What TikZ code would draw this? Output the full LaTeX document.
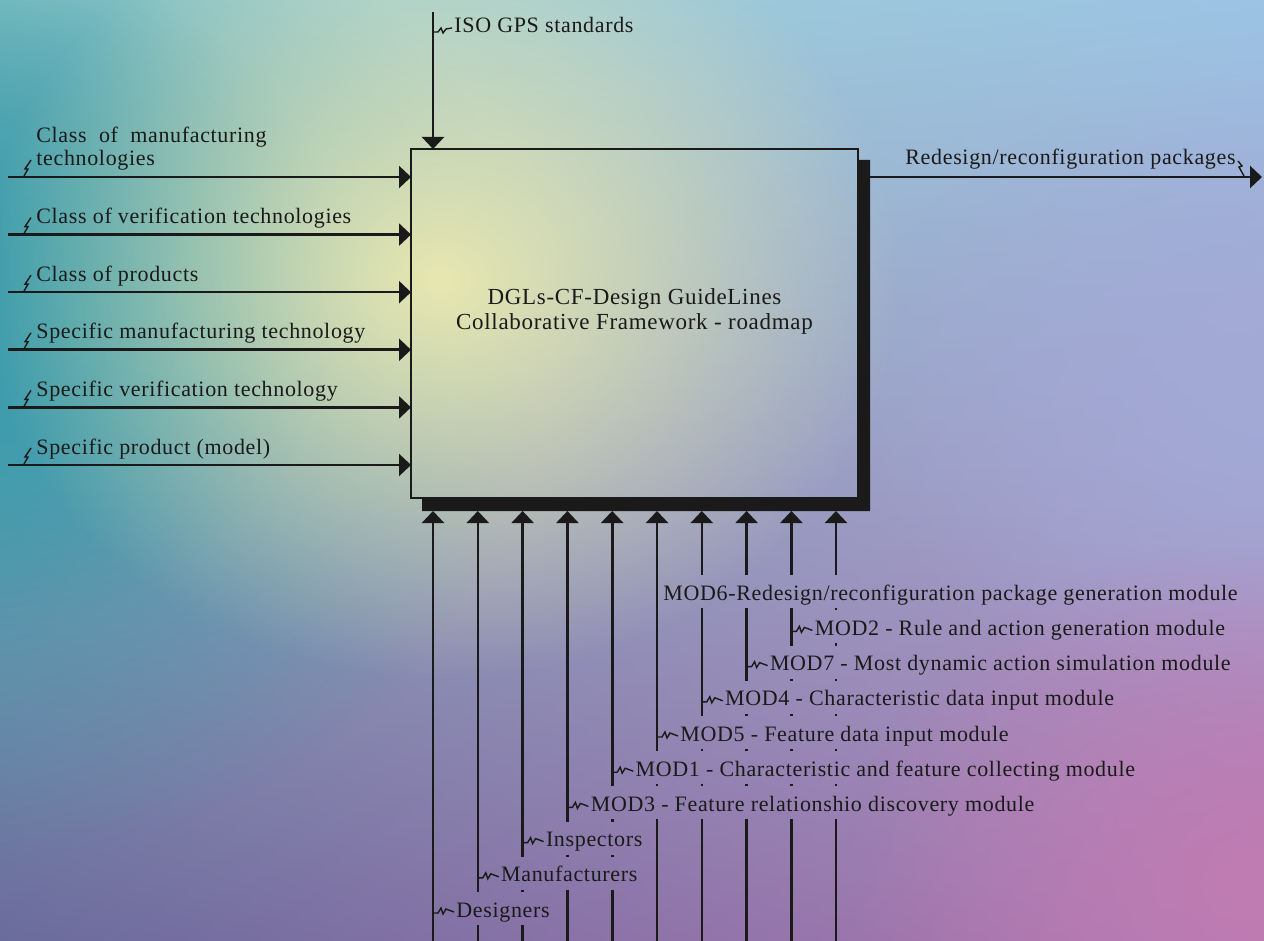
\documentclass[tikz,border=0pt]{standalone}
\usepackage{fontspec}
\setmainfont{Liberation Serif}[LetterSpace=3]
\usetikzlibrary{arrows.meta,calc,fadings,shadings,positioning}

\definecolor{bgTL}{HTML}{9CCFCB}
\definecolor{bgTR}{HTML}{9CC3E4}
\definecolor{bgBL}{HTML}{6A6C9C}
\definecolor{bgBR}{HTML}{B07AB4}
\definecolor{bgTeal}{HTML}{3A9CAC}
\definecolor{bgCream}{HTML}{E8E8B0}
\definecolor{bgLilac}{HTML}{A2AAD6}
\definecolor{bgPink}{HTML}{C07CB2}
\definecolor{inkline}{HTML}{1A1A1A}

\tikzfading[name=blob fade, inner color=transparent!0, outer color=transparent!100]

% the coloured paper behind the diagram (drawn with y pointing up)
\newcommand{\paintpaper}{%
	\begin{scope}[y=0.5pt]
		\clip (0,0) rectangle (1264,-941);
		\shade[upper left=bgTL, upper right=bgTR, lower left=bgBL, lower right=bgBR] (0,0) rectangle (1264,-941);
		\fill[bgTeal, path fading=blob fade] (-60,-350) ellipse [x radius=600, y radius=520];
		\fill[bgTeal, path fading=blob fade] (-40,-290) ellipse [x radius=380, y radius=340];
		\fill[bgLilac, path fading=blob fade] (1264,-400) ellipse [x radius=420, y radius=320];
		\fill[bgPink, path fading=blob fade] (1264,-880) ellipse [x radius=420, y radius=340];
		\fill[bgCream, path fading=blob fade] (440,-280) ellipse [x radius=460, y radius=400];
	\end{scope}}

\tikzset{
		% IDEF0 style: wires, arrows, squiggles and labels
		wire/.style={line width=1.3pt, draw=inkline},
		arrow wire/.style={wire, -{Triangle[length=6pt,width=11pt]}},
		squiggle/.style={line width=0.7pt, draw=inkline},
		lbl/.style={font=\fontsize{11}{13}\selectfont, text=inkline, inner xsep=1pt, inner ysep=2.75pt, text height=7.5pt, text depth=2.5pt},
		in label/.style={lbl, anchor=base west},
		mech label/.style={lbl, anchor=west}
	}

\begin{document}
\begin{tikzpicture}[x=0.5pt, y=-0.5pt]
		\useasboundingbox (0,0) rectangle (1264,941);
		\paintpaper

		% activity box with its shadow
		\node[draw=inkline, line width=1pt, minimum width=223.5pt, minimum height=174.5pt, inner sep=0pt, outer sep=0pt] (dgl) at (634.5,323.5) {};
		\fill[inkline] ($(dgl.north east)+(0,11)$) -- ++(12,0) |- ($(dgl.south west)+(11,13)$) -- ++(0,-13) -- (dgl.south east) -- cycle;
		\coordinate (shadow-bottom) at ($(dgl.south)+(0,13)$);
		\node[font=\fontsize{11.5}{12.5}\selectfont, text=inkline, align=center] (dgl-text) at ($(dgl.center)+(0,-12)$) {DGLs-CF-Design GuideLines\\Collaborative Framework - roadmap};

		% inputs
		\foreach \i/\txt in {2/Class of verification technologies, 3/Class of products, 4/Specific manufacturing technology, 5/Specific verification technology, 6/Specific product (model)}{
			\pgfmathsetmacro\y{177+57.6*(\i-1)}
			\coordinate (in-\i) at (8,\y);
			\draw[arrow wire] (in-\i) -- (dgl.west |- in-\i);
			\node[in label] (in-label-\i) at (34,\y-11) {\txt};
			\draw[squiggle] ($(in-\i)+(16,-1)$) -- ++(4,-7) -- ++(-3,0) -- ++(6,-9);
		}
		\coordinate (in-1) at (8,177);
		\draw[arrow wire] (in-1) -- (dgl.west |- in-1);
		\node[lbl, anchor=base west, text depth=0pt] (in-label-1b) at (34,166) {technologies};
		\node[lbl, anchor=base west] (in-label-1) at (34,143) {Class~~of~~manufacturing};
		\draw[squiggle] ($(in-1)+(16,-1)$) -- ++(4,-7) -- ++(-3,0) -- ++(6,-9);

		% control
		\coordinate (ctrl) at (433,12);
		\draw[arrow wire] (ctrl) -- (ctrl |- dgl.north);
		\node[in label] (ctrl-label) at (452,33) {ISO GPS standards};
		\draw[squiggle] ($(ctrl)+(0,20)$) -- ++(5,0) -- ++(3,-4) -- ++(2,5) -- ++(3,-4) -- (ctrl-label.west);

		% output
		\coordinate (out-end) at (1262,177);
		\draw[arrow wire] ($(dgl.east |- out-end)+(12,0)$) -- (out-end);
		\node[lbl, anchor=base east] (out-label) at (1238,165) {Redesign/reconfiguration packages};
		\draw[squiggle] (out-label.base east) ++(0,-4) -- ++(4,5) -- ++(-3,1) -- ++(5,9);

		% mechanisms: labels
		\foreach \i/\txt in {1/Designers, 2/Manufacturers, 3/Inspectors, 4/MOD3 - Feature relationshio discovery module, 5/MOD1 - Characteristic and feature collecting module, 6/MOD5 - Feature data input module, 7/MOD4 - Characteristic data input module, 8/MOD7 - Most dynamic action simulation module, 9/MOD2 - Rule and action generation module}{
			\pgfmathsetmacro\mx{433+44.8*(\i-1)}
			\pgfmathsetmacro\my{910-35.2*(\i-1)}
			\coordinate (mech-\i) at (\mx,941);
			\node[mech label] (mech-label-\i) at (\mx+21,\my+2) {\txt};
			\draw[squiggle] (\mx,\my+3) -- ++(5,0) -- ++(3,-5) -- ++(2,6) -- ++(3,-5) -- (mech-label-\i.west);
		}
		\coordinate (mech-10) at (836,941);
		\node[mech label] (mech-label-10) at (661,595) {MOD6-Redesign/reconfiguration package generation module};

		% mechanisms: wires, broken where a label crosses them
		\draw[arrow wire] (mech-1) -- (mech-1 |- shadow-bottom);
		\foreach \i/\gaps in {2/{1}, 3/{1,2}, 4/{2,3}, 5/{2,3,4}, 6/{4,5}, 7/{4,5,6,10}, 8/{4,5,6,7,10}, 9/{4,5,6,7,8,10}, 10/{4,5,6,7,8,9,10}}{
			\xdef\wirey{941}
			\foreach \g in \gaps{
				\pgfmathsetmacro\c{ifthenelse(\g==10,593.2,910-35.2*(\g-1))}
				\pgfmathsetmacro\lo{\c+15}
				\pgfmathsetmacro\hi{\c-18}
				\draw[wire] (mech-\i |- 0,\wirey) -- (mech-\i |- 0,\lo);
				\xdef\wirey{\hi}
			}
			\draw[arrow wire] (mech-\i |- 0,\wirey) -- (mech-\i |- shadow-bottom);
		}
	\end{tikzpicture}
\end{document}
